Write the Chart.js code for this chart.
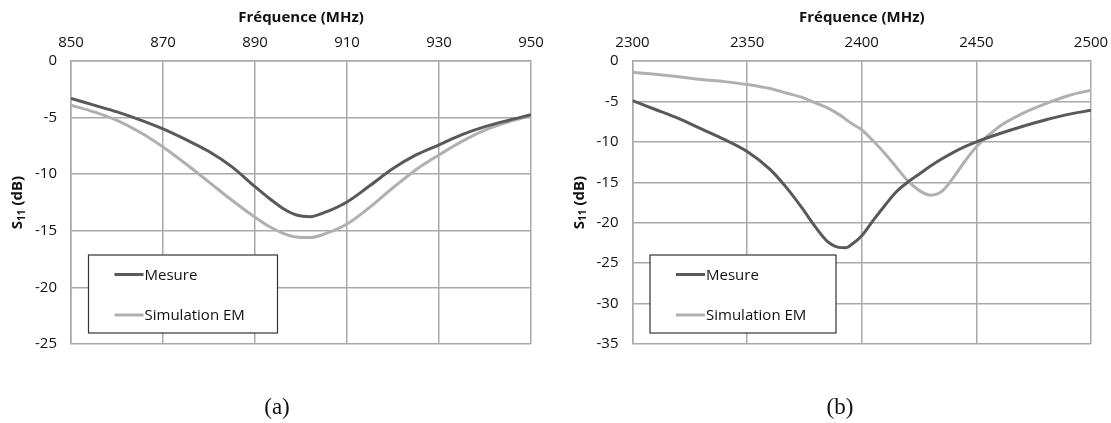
<!DOCTYPE html>
<html>
<head>
<meta charset="utf-8">
<script src="https://cdn.jsdelivr.net/npm/chart.js"></script>
<style>
body { margin: 0; background: #fff; }
#wrap { position: relative; width: 1111px; height: 423px; overflow: hidden; }
canvas { position: absolute; top: 0; }
#chartA { left: 0; }
#chartB { left: 560px; }
.cap { position: absolute; top: 394px; line-height: 26px; font-family: "Liberation Serif", serif; font-size: 23px; color: #111; transform: translateX(-50%); }
</style>
</head>
<body>
<div id="wrap">
  <canvas id="chartA" width="560" height="423"></canvas>
  <canvas id="chartB" width="560" height="423"></canvas>
  <div class="cap" style="left:277px">(a)</div>
  <div class="cap" style="left:840px">(b)</div>
</div>
<script>
// (a) band 850-950 MHz
const freqA = [850, 855, 860, 865, 870, 875, 880, 885, 890, 893, 896, 899, 902, 905, 910, 915, 920, 925, 930, 935, 940, 945, 950];
const mesureA = [-3.3, -3.9, -4.5, -5.2, -6.0, -6.95, -8.0, -9.35, -11.1, -12.1, -13.0, -13.6, -13.75, -13.4, -12.45, -11.0, -9.5, -8.3, -7.4, -6.5, -5.8, -5.25, -4.75];
const simA = [-3.9, -4.5, -5.25, -6.3, -7.6, -9.1, -10.7, -12.3, -13.8, -14.6, -15.2, -15.55, -15.6, -15.3, -14.4, -12.9, -11.2, -9.6, -8.3, -7.1, -6.1, -5.4, -4.85];

// (b) band 2300-2500 MHz
const freqB = [2300, 2310, 2320, 2330, 2340, 2350, 2360, 2367, 2374, 2380, 2385, 2390, 2393, 2396, 2400, 2405, 2410, 2415, 2420, 2425, 2430, 2435, 2440, 2445, 2450, 2460, 2470, 2480, 2490, 2500];
const mesureB = [-4.9, -6.0, -7.1, -8.4, -9.7, -11.2, -13.4, -15.6, -18.2, -20.6, -22.3, -23.05, -23.1, -22.6, -21.6, -19.7, -17.9, -16.2, -15.0, -14.0, -13.0, -12.1, -11.3, -10.6, -10.0, -9.0, -8.1, -7.3, -6.6, -6.1];
const simB = [-1.4, -1.65, -1.95, -2.3, -2.55, -2.9, -3.4, -3.95, -4.5, -5.2, -5.8, -6.6, -7.2, -7.8, -8.5, -9.9, -11.4, -13.1, -14.8, -16.0, -16.6, -16.1, -14.4, -12.4, -10.6, -8.1, -6.5, -5.3, -4.3, -3.6];

// axis ranges: [min, max, step]
const xTicksA = [850, 950, 20];
const yTicksA = [-25, 0, 5];
const xTicksB = [2300, 2500, 50];
const yTicksB = [-35, 0, 5];

const seriesNames = ['Mesure', 'Simulation EM'];
const seriesColors = ['#595959', '#b0b0b0'];
const xTitle = 'Fréquence (MHz)';

const FONT = '"Open Sans", sans-serif';
const GRID = '#a9a9a9';

// y title with subscript + boxed legend
const overlay = {
    id: 'overlay',
    afterDraw(chart) {
        const ctx = chart.ctx;
        const area = chart.chartArea;
        ctx.save();
        ctx.translate(area.left - 53, (area.top + area.bottom) / 2);
        ctx.rotate(-Math.PI / 2);
        ctx.fillStyle = '#111';
        ctx.textBaseline = 'middle';
        const big = 'bold 15px ' + FONT, small = 'bold 10px ' + FONT;
        ctx.font = big; const w1 = ctx.measureText('S').width, w3 = ctx.measureText(' (dB)').width;
        ctx.font = small; const w2 = ctx.measureText('11').width;
        let x = -(w1 + w2 + w3) / 2;
        ctx.font = big; ctx.fillText('S', x, 0); x += w1;
        ctx.font = small; ctx.fillText('11', x, 4); x += w2;
        ctx.font = big; ctx.fillText(' (dB)', x, 0);
        ctx.restore();

        const opt = chart.options.plugins.overlay;
        const bx = area.left + 17.5, by = 255, bw = opt.boxWidth, bh = 78;
        ctx.save();
        ctx.fillStyle = '#fff';
        ctx.fillRect(bx, by, bw, bh);
        ctx.strokeStyle = '#333';
        ctx.lineWidth = 1.2;
        ctx.strokeRect(bx, by, bw, bh);
        ctx.font = '15px ' + FONT;
        ctx.textBaseline = 'middle';
        chart.data.datasets.forEach((ds, i) => {
            const ly = by + 19.5 + i * 40.5;
            ctx.strokeStyle = ds.borderColor;
            ctx.lineWidth = 3;
            ctx.beginPath();
            ctx.moveTo(bx + 26, ly);
            ctx.lineTo(bx + 55, ly);
            ctx.stroke();
            ctx.fillStyle = '#111';
            ctx.fillText(ds.label, bx + 56, ly + 1);
        });
        ctx.restore();
    }
};

function makeChart(id, freq, series, xt, yt, padRight, yWidth, boxWidth) {
    new Chart(document.getElementById(id), {
        type: 'line',
        data: {
            datasets: series.map((vals, i) => ({
                label: seriesNames[i],
                data: freq.map((f, k) => ({ x: f, y: vals[k] })),
                borderColor: seriesColors[i],
                borderWidth: 3,
                pointRadius: 0,
                cubicInterpolationMode: 'monotone',
                fill: false,
                order: i   // Mesure (order 0) painted on top
            }))
        },
        options: {
            responsive: false,
            animation: false,
            layout: { padding: { left: 0, right: padRight, top: 0, bottom: 79 } },
            plugins: {
                legend: { display: false },
                tooltip: { enabled: false },
                overlay: { boxWidth: boxWidth }
            },
            scales: {
                x: {
                    type: 'linear',
                    position: 'top',
                    min: xt[0], max: xt[1],
                    ticks: { stepSize: xt[2], padding: 9, color: '#111', font: { family: FONT, size: 15 }, callback: v => String(v) },
                    grid: { color: GRID, lineWidth: 1.5, drawTicks: false },
                    border: { color: GRID, width: 1.5 },
                    title: { display: true, text: xTitle, color: '#111', font: { family: FONT, size: 15, weight: 'bold' }, padding: { top: 9, bottom: 0 } },
                    afterFit(scale) { scale.height = 61; }
                },
                y: {
                    min: yt[0], max: yt[1],
                    ticks: { stepSize: yt[2], padding: 14, color: '#111', font: { family: FONT, size: 15 }, callback: v => String(v) },
                    grid: { color: GRID, lineWidth: 1.5, drawTicks: false },
                    border: { color: GRID, width: 1.5 },
                    afterFit(scale) { scale.width = yWidth; }
                }
            }
        },
        plugins: [overlay]
    });
}

makeChart('chartA', freqA, [mesureA, simA], xTicksA, yTicksA, 29, 71, 189);
makeChart('chartB', freqB, [mesureB, simB], xTicksB, yTicksB, 29, 72.5, 186);
</script>
</body>
</html>
